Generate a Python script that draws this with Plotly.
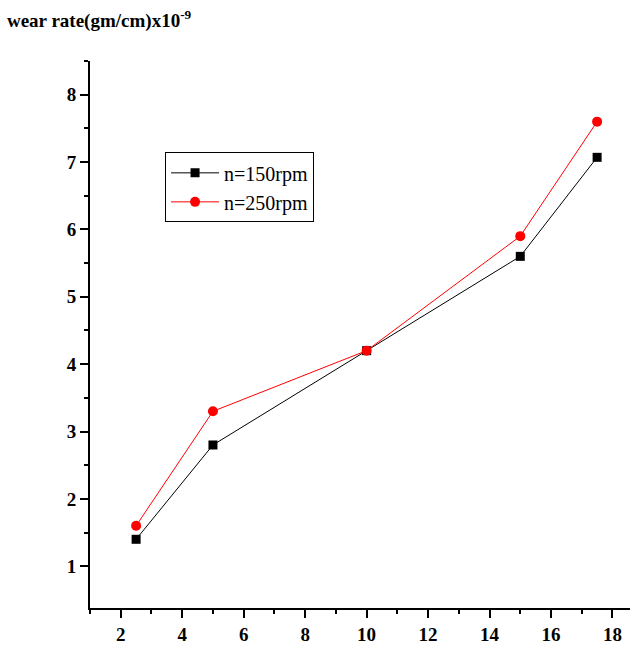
import plotly.graph_objects as go

speed_x = [2.5, 5, 10, 15, 17.5]
wear_150 = [1.4, 2.8, 4.2, 5.6, 7.07]
wear_250 = [1.6, 3.3, 4.2, 5.9, 7.6]
series_names = ["n=150rpm", "n=250rpm"]
y_minor = [1.5, 2.5, 3.5, 4.5, 5.5, 6.5, 7.5, 8.5]

FONT = "Liberation Serif, Times New Roman, serif"

fig = go.Figure()
fig.add_trace(go.Scatter(
    x=speed_x, y=wear_150, name=series_names[0], mode="lines+markers",
    line=dict(color="black", width=1),
    marker=dict(symbol="square", size=9, color="black"),
))
fig.add_trace(go.Scatter(
    x=speed_x, y=wear_250, name=series_names[1], mode="lines+markers",
    line=dict(color="#ff0000", width=1),
    marker=dict(symbol="circle", size=10, color="#ff0000"),
))

axis_common = dict(
    showline=True, linewidth=2, linecolor="black",
    showgrid=False, zeroline=False,
    ticks="outside", ticklen=8, tickwidth=2, tickcolor="black",
    tickfont=dict(family=FONT, size=19, color="black", weight="bold"),
)

fig.update_xaxes(
    range=[1, 18.57], tickmode="linear", tick0=2, dtick=2,
    minor=dict(tickmode="linear", tick0=1, dtick=1, ticks="outside",
               ticklen=4, tickwidth=2, tickcolor="black"),
    **axis_common,
)
fig.update_yaxes(
    range=[0.38, 8.5], tickmode="linear", tick0=0, dtick=1,
    minor=dict(tickmode="array", tickvals=y_minor, ticks="outside",
               ticklen=4, tickwidth=2, tickcolor="black"),
    **axis_common,
)

fig.update_layout(
    width=630, height=645,
    margin=dict(l=90, r=0, t=61, b=33),
    paper_bgcolor="white", plot_bgcolor="white",
    showlegend=True,
    legend=dict(
        x=0.139, y=0.833, xanchor="left", yanchor="top",
        bgcolor="white", bordercolor="black", borderwidth=1,
        font=dict(family=FONT, size=20, color="black"),
        tracegroupgap=0, itemwidth=48,
    ),
    title=dict(
        text="wear rate(gm/cm)x10<sup>-9</sup>",
        x=0.011, xanchor="left", xref="container",
        y=0.968, yanchor="middle", yref="container",
        font=dict(family=FONT, size=19, color="black", weight="bold"),
    ),
)

fig.write_html("out.html")
